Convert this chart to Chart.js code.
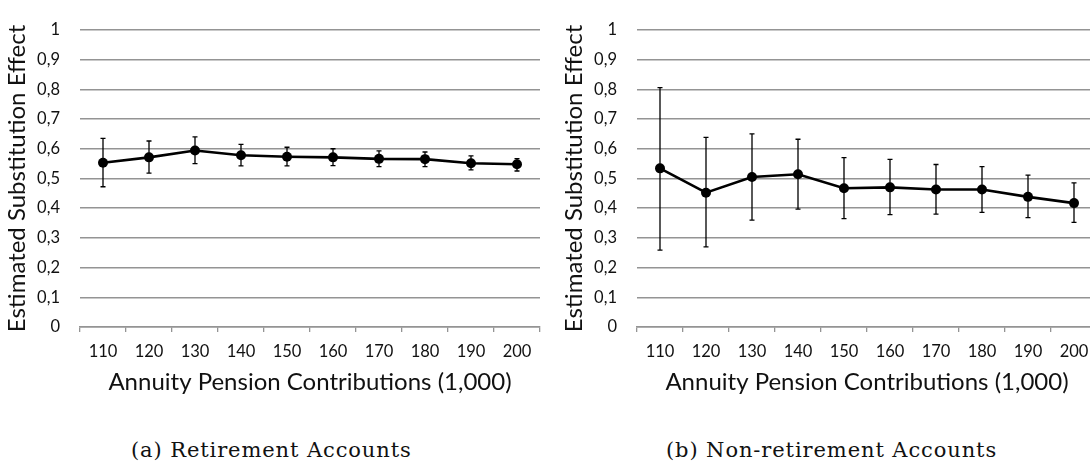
<!DOCTYPE html>
<html>
<head>
<meta charset="utf-8">
<script src="https://cdn.jsdelivr.net/npm/chart.js@4"></script>
<style>
    html, body { margin: 0; padding: 0; background: #fff; overflow: hidden; }
    body { width: 1090px; height: 470px; position: relative; }
    canvas { position: absolute; top: 0; }
    #chart-a { left: 0; }
    #chart-b { left: 557px; }
    .caption {
        position: absolute;
        top: 438px;
        font-family: 'DejaVu Serif', serif;
        font-size: 21px;
        letter-spacing: 0.9px;
        color: #111;
        white-space: nowrap;
    }
    #caption-a { left: 131px; }
    #caption-b { left: 666px; }
</style>
</head>
<body>
<canvas id="chart-a" width="545" height="407"></canvas>
<canvas id="chart-b" width="545" height="407"></canvas>
<div class="caption" id="caption-a">(a) Retirement Accounts</div>
<div class="caption" id="caption-b">(b) Non-retirement Accounts</div>

<script>
// data
const categories = ['110', '120', '130', '140', '150', '160', '170', '180', '190', '200'];
const yTickLabels = ['0', '0,1', '0,2', '0,3', '0,4', '0,5', '0,6', '0,7', '0,8', '0,9', '1'];

// (a) Retirement Accounts
const retValues = [0.553, 0.571, 0.594, 0.578, 0.573, 0.571, 0.566, 0.565, 0.551, 0.548];
const retUpper  = [0.635, 0.626, 0.640, 0.615, 0.605, 0.600, 0.593, 0.589, 0.576, 0.567];
const retLower  = [0.472, 0.518, 0.550, 0.542, 0.542, 0.543, 0.540, 0.540, 0.529, 0.525];

// (b) Non-retirement Accounts
const nonRetValues = [0.534, 0.452, 0.505, 0.514, 0.467, 0.470, 0.463, 0.463, 0.438, 0.417];
const nonRetUpper  = [0.806, 0.638, 0.650, 0.632, 0.570, 0.564, 0.547, 0.540, 0.511, 0.485];
const nonRetLower  = [0.259, 0.270, 0.360, 0.397, 0.365, 0.378, 0.380, 0.386, 0.368, 0.352];

const gridColor = '#949494';

Chart.defaults.font.family = 'Lato';
Chart.defaults.color = '#111';

// plugin untuk garis error
const errorBars = {
    id: 'errorBars',
    beforeDatasetsDraw(chart, args, opts) {
        const ctx = chart.ctx;
        const xScale = chart.scales.x;
        const yScale = chart.scales.y;
        ctx.save();
        ctx.strokeStyle = '#000';
        ctx.lineWidth = 1.3;
        opts.upper.forEach((up, i) => {
            const x = xScale.getPixelForValue(i);
            const yTop = yScale.getPixelForValue(up);
            const yBot = yScale.getPixelForValue(opts.lower[i]);
            ctx.beginPath();
            ctx.moveTo(x, yTop);
            ctx.lineTo(x, yBot);
            ctx.moveTo(x - 2.5, yTop);
            ctx.lineTo(x + 2.5, yTop);
            ctx.moveTo(x - 2.5, yBot);
            ctx.lineTo(x + 2.5, yBot);
            ctx.stroke();
        });
        ctx.restore();
    }
};

function makeChart(canvasId, values, upper, lower) {
    const ctx = document.getElementById(canvasId).getContext('2d');
    return new Chart(ctx, {
        type: 'line',
        data: {
            labels: categories,
            datasets: [{
                data: values,
                borderColor: '#000',
                backgroundColor: '#000',
                borderWidth: 2.6,
                pointRadius: 5,
                pointHoverRadius: 5,
                pointBackgroundColor: '#000',
                pointBorderWidth: 0,
                tension: 0,
                fill: false
            }]
        },
        options: {
            responsive: false,
            animation: false,
            layout: {
                padding: { top: 17, right: 3, bottom: 0, left: 0 }
            },
            plugins: {
                legend: { display: false },
                tooltip: { enabled: false },
                errorBars: { upper: upper, lower: lower }
            },
            scales: {
                x: {
                    offset: true,
                    grid: {
                        offset: true,
                        drawOnChartArea: false,
                        drawTicks: true,
                        tickLength: 5,
                        color: gridColor,
                        lineWidth: 1.3
                    },
                    border: { color: gridColor, width: 1.5 },
                    ticks: {
                        padding: 10,
                        font: { size: 16.5 },
                        maxRotation: 0,
                        autoSkip: false
                    },
                    title: {
                        display: true,
                        text: 'Annuity Pension Contributions (1,000)',
                        font: { size: 24 },
                        padding: { top: 0, bottom: 10 }
                    },
                    afterFit(scale) { scale.height = 80; }
                },
                y: {
                    min: 0,
                    max: 1,
                    grid: {
                        drawTicks: false,
                        color: gridColor,
                        lineWidth: 1.5
                    },
                    border: { display: false },
                    ticks: {
                        stepSize: 0.1,
                        padding: 20,
                        font: { size: 16.5 },
                        callback: function(value) {
                            return yTickLabels[Math.round(value * 10)];
                        }
                    },
                    title: {
                        display: true,
                        text: 'Estimated Substitution Effect',
                        font: { size: 24 },
                        padding: { top: 3, bottom: 0 }
                    },
                    afterFit(scale) { scale.width = 80; }
                }
            }
        },
        plugins: [errorBars]
    });
}

document.addEventListener('DOMContentLoaded', function() {
    makeChart('chart-a', retValues, retUpper, retLower);
    makeChart('chart-b', nonRetValues, nonRetUpper, nonRetLower);
});
</script>
</body>
</html>
